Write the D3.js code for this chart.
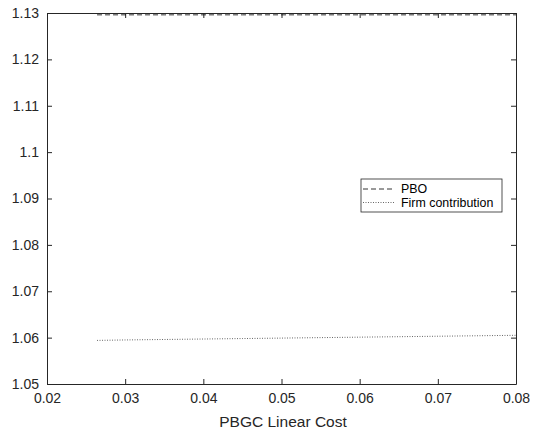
<!DOCTYPE html>
<html>
<head>
<meta charset="utf-8">
<script src="https://cdn.jsdelivr.net/npm/d3@7"></script>
<style>
  html, body { margin: 0; padding: 0; background: #fff; }
  svg { display: block; font-family: "Liberation Sans", Arial, Helvetica, sans-serif; }
</style>
</head>
<body>
<svg id="chart" width="537" height="434"></svg>
<script>
// PBGC linear cost grid
const linearCost = [0.0264, 0.03, 0.035, 0.04, 0.045, 0.05, 0.055, 0.06, 0.065, 0.07, 0.075, 0.08];
// Series values
const pbo = [1.1296, 1.1296, 1.1296, 1.1296, 1.1296, 1.1296, 1.1296, 1.1296, 1.1296, 1.1296, 1.1296, 1.1296];
const firmContribution = [1.0594, 1.0595, 1.0596, 1.0597, 1.0598, 1.0599, 1.0600, 1.0601, 1.0602, 1.0603, 1.0604, 1.0605];
// Axis ticks
const xTicks = [0.02, 0.03, 0.04, 0.05, 0.06, 0.07, 0.08];
const yTicks = [1.05, 1.06, 1.07, 1.08, 1.09, 1.1, 1.11, 1.12, 1.13];
const seriesNames = ["PBO", "Firm contribution"];

const svg = d3.select("#chart");
const m = { left: 47, right: 516, top: 13, bottom: 384 };
const axisColor = "#262626";

const x = d3.scaleLinear().domain([0.02, 0.08]).range([m.left, m.right]);
const y = d3.scaleLinear().domain([1.05, 1.13]).range([m.bottom, m.top]);

const tickLen = 5;
const fmt = d => String(+d.toFixed(2));

// Axes: ticks point inward, box drawn on all four sides
const gx = svg.append("g").attr("transform", `translate(0,${m.bottom})`)
  .call(d3.axisBottom(x).tickValues(xTicks).tickFormat(fmt).tickSizeInner(-tickLen).tickSizeOuter(0).tickPadding(9));
const gxTop = svg.append("g").attr("transform", `translate(0,${m.top})`)
  .call(d3.axisTop(x).tickValues(xTicks).tickFormat("").tickSizeInner(-tickLen).tickSizeOuter(0));
const gy = svg.append("g").attr("transform", `translate(${m.left},0)`)
  .call(d3.axisLeft(y).tickValues(yTicks).tickFormat(fmt).tickSizeInner(-tickLen).tickSizeOuter(0).tickPadding(8));
const gyRight = svg.append("g").attr("transform", `translate(${m.right},0)`)
  .call(d3.axisRight(y).tickValues(yTicks).tickFormat("").tickSizeInner(-tickLen).tickSizeOuter(0));

[gx, gxTop, gy, gyRight].forEach(g => {
  g.select(".domain").attr("stroke", axisColor).attr("stroke-width", 1);
  g.selectAll(".tick line").attr("stroke", axisColor).attr("stroke-width", 1);
  g.selectAll(".tick text").attr("fill", axisColor).attr("font-size", 14)
    .attr("font-family", "Liberation Sans, Arial, sans-serif");
});

// Series lines
const line = vals => d3.line().x((d, i) => x(linearCost[i])).y(d => y(d))(vals);

svg.append("path").attr("d", line(pbo))
  .attr("fill", "none").attr("stroke", "#000").attr("stroke-width", 0.8)
  .attr("stroke-dasharray", "5,3");

svg.append("path").attr("d", line(firmContribution))
  .attr("fill", "none").attr("stroke", "#000").attr("stroke-width", 0.6)
  .attr("stroke-dasharray", "1,1.5");

// X axis label
svg.append("text").attr("x", 283).attr("y", 427)
  .attr("text-anchor", "middle").attr("fill", axisColor).attr("font-size", 15.5)
  .text("PBGC Linear Cost");

// Legend
const lg = svg.append("g").attr("transform", "translate(361,179)");
lg.append("rect").attr("x", 0).attr("y", 0).attr("width", 141).attr("height", 33)
  .attr("fill", "#fff").attr("stroke", axisColor).attr("stroke-width", 0.8);
const dashes = ["5,3", "1,1.5"];
const widths = [0.8, 0.6];
seriesNames.forEach((name, i) => {
  const cy = 10 + i * 13.5;
  lg.append("line").attr("x1", 2).attr("x2", 33).attr("y1", cy).attr("y2", cy)
    .attr("stroke", "#000").attr("stroke-width", widths[i]).attr("stroke-dasharray", dashes[i]);
  lg.append("text").attr("x", 40).attr("y", cy + 4.3)
    .attr("fill", "#000").attr("font-size", 12.4).text(name);
});
</script>
</body>
</html>
